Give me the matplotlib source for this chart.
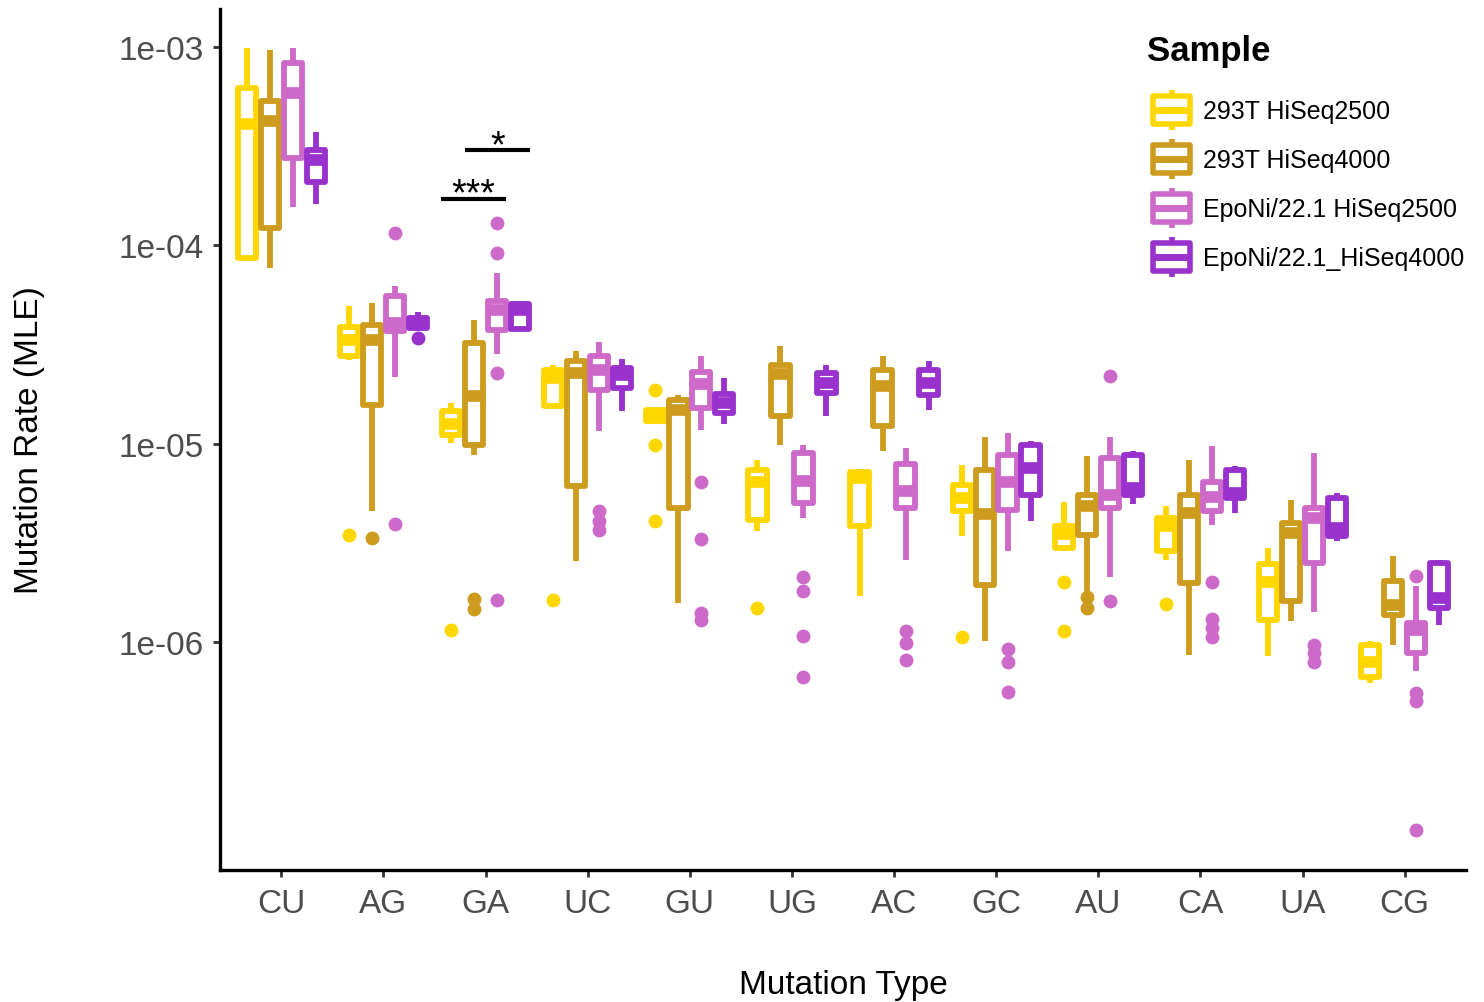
import numpy as np
import matplotlib
matplotlib.use("Agg")
import matplotlib.pyplot as plt
from matplotlib.patches import Rectangle, Patch
from matplotlib.lines import Line2D
from matplotlib.legend_handler import HandlerBase
from matplotlib.ticker import FixedLocator, NullLocator

plt.rcParams['font.family'] = ['Liberation Sans', 'DejaVu Sans']

# categories / groups
mutation_types = ["CU", "AG", "GA", "UC", "GU", "UG", "AC", "GC", "AU", "CA", "UA", "CG"]
samples = ["293T HiSeq2500", "293T HiSeq4000", "EpoNi/22.1 HiSeq2500", "EpoNi/22.1_HiSeq4000"]
colors = ["#FFD700", "#CD9B1D", "#CD69C9", "#9932CC"]

# box summaries per mutation type: (lower whisker, q1, median, q3, upper whisker)
t293_hs2500 = [
    (8.5e-5, 8.6e-5, 4.1e-4, 6.2e-4, 9.9e-4),
    (2.65e-5, 2.77e-5, 3.34e-5, 3.88e-5, 4.95e-5),
    (1.01e-5, 1.11e-5, 1.26e-5, 1.47e-5, 1.61e-5),
    (1.54e-5, 1.55e-5, 2.15e-5, 2.36e-5, 2.5e-5),
    (1.31e-5, 1.31e-5, 1.38e-5, 1.48e-5, 1.48e-5),
    (3.65e-6, 4.14e-6, 6.44e-6, 7.4e-6, 8.3e-6),
    (1.71e-6, 3.86e-6, 6.7e-6, 7.2e-6, 7.5e-6),
    (3.44e-6, 4.6e-6, 5.35e-6, 6.2e-6, 7.8e-6),
    (2.92e-6, 2.99e-6, 3.52e-6, 3.86e-6, 5.1e-6),
    (2.6e-6, 2.89e-6, 3.86e-6, 4.24e-6, 4.87e-6),
    (8.55e-7, 1.3e-6, 2.02e-6, 2.48e-6, 2.99e-6),
    (6.25e-7, 6.7e-7, 8.0e-7, 9.7e-7, 1.02e-6),
]
t293_hs4000 = [
    (7.7e-5, 1.22e-4, 4.24e-4, 5.35e-4, 9.7e-4),
    (4.6e-6, 1.57e-5, 3.34e-5, 3.98e-5, 5.13e-5),
    (8.8e-6, 9.9e-6, 1.75e-5, 3.23e-5, 4.21e-5),
    (2.58e-6, 6.14e-6, 2.28e-5, 2.62e-5, 2.94e-5),
    (1.58e-6, 4.76e-6, 1.48e-5, 1.67e-5, 1.77e-5),
    (9.9e-6, 1.38e-5, 2.25e-5, 2.5e-5, 3.12e-5),
    (9.2e-6, 1.23e-5, 1.96e-5, 2.36e-5, 2.77e-5),
    (1.02e-6, 1.95e-6, 4.44e-6, 7.4e-6, 1.08e-5),
    (1.82e-6, 3.48e-6, 4.87e-6, 5.5e-6, 8.7e-6),
    (8.65e-7, 2.0e-6, 4.49e-6, 5.5e-6, 8.3e-6),
    (1.28e-6, 1.62e-6, 3.56e-6, 4.0e-6, 5.22e-6),
    (9.7e-7, 1.38e-6, 1.55e-6, 2.04e-6, 2.73e-6),
]
epo_hs2500 = [
    (1.56e-4, 2.76e-4, 5.87e-4, 8.3e-4, 9.9e-4),
    (2.18e-5, 3.71e-5, 4.07e-5, 5.57e-5, 6.25e-5),
    (2.84e-5, 3.75e-5, 4.73e-5, 5.25e-5, 7.27e-5),
    (1.16e-5, 1.87e-5, 2.36e-5, 2.77e-5, 3.27e-5),
    (1.18e-5, 1.52e-5, 2.0e-5, 2.31e-5, 2.77e-5),
    (4.24e-6, 5.05e-6, 6.5e-6, 9.0e-6, 9.9e-6),
    (2.6e-6, 4.76e-6, 5.8e-6, 7.9e-6, 9.55e-6),
    (2.89e-6, 4.65e-6, 6.44e-6, 8.8e-6, 1.14e-5),
    (2.14e-6, 4.76e-6, 5.5e-6, 8.5e-6, 1.08e-5),
    (3.9e-6, 4.6e-6, 5.4e-6, 6.44e-6, 9.77e-6),
    (1.43e-6, 2.52e-6, 4.24e-6, 4.76e-6, 9.0e-6),
    (7.2e-7, 8.85e-7, 1.16e-6, 1.25e-6, 1.93e-6),
]
epo_hs4000 = [
    (1.62e-4, 2.09e-4, 2.7e-4, 3.03e-4, 3.73e-4),
    (3.71e-5, 3.84e-5, 4.07e-5, 4.31e-5, 4.62e-5),
    (3.75e-5, 3.8e-5, 4.73e-5, 5.07e-5, 5.25e-5),
    (1.47e-5, 1.91e-5, 2.23e-5, 2.41e-5, 2.68e-5),
    (1.26e-5, 1.43e-5, 1.6e-5, 1.79e-5, 2.15e-5),
    (1.38e-5, 1.81e-5, 2.03e-5, 2.28e-5, 2.5e-5),
    (1.48e-5, 1.77e-5, 2.03e-5, 2.36e-5, 2.62e-5),
    (4.1e-6, 5.5e-6, 7.6e-6, 9.9e-6, 1.04e-5),
    (4.99e-6, 5.5e-6, 6.0e-6, 8.8e-6, 9.2e-6),
    (4.49e-6, 5.35e-6, 5.66e-6, 7.4e-6, 7.74e-6),
    (3.25e-6, 3.44e-6, 3.78e-6, 5.35e-6, 5.66e-6),
    (1.22e-6, 1.49e-6, 1.67e-6, 2.52e-6, 2.6e-6),
]

# outliers per mutation type
t293_hs2500_out = [[], [3.48e-6], [1.16e-6], [1.64e-6], [1.87e-5, 9.9e-6, 4.1e-6], [1.49e-6],
                   [], [1.07e-6], [2.02e-6, 1.14e-6], [1.56e-6], [], []]
t293_hs4000_out = [[], [3.36e-6], [1.66e-6, 1.48e-6], [], [], [], [], [], [1.69e-6, 1.49e-6],
                   [], [], []]
epo_hs2500_out = [[], [1.156e-4, 3.95e-6], [1.3e-4, 9.17e-5, 2.28e-5, 1.64e-6],
                  [4.6e-6, 4.1e-6, 3.69e-6], [6.4e-6, 3.32e-6, 1.41e-6, 1.3e-6],
                  [2.14e-6, 1.82e-6, 1.08e-6, 6.7e-7], [1.14e-6, 9.9e-7, 8.2e-7],
                  [9.3e-7, 8.0e-7, 5.6e-7], [2.2e-5, 1.62e-6], [2.02e-6, 1.31e-6, 1.18e-6, 1.07e-6],
                  [9.7e-7, 8.85e-7, 8.0e-7], [2.16e-6, 5.57e-7, 5.07e-7, 1.135e-7]]
epo_hs4000_out = [[], [3.42e-5], [], [], [], [], [], [], [], [], [], []]

# significance brackets (GA group): x from, x to, height, label
sig_x0 = [1.564, 1.802]
sig_x1 = [2.201, 2.432]
sig_y = [1.715e-4, 3.01e-4]
sig_txt = ["***", "*"]


class BoxKey(HandlerBase):
    def create_artists(self, legend, orig_handle, xdescent, ydescent, width, height, fontsize, trans):
        col = orig_handle.get_edgecolor()
        x0, y0 = -xdescent, -ydescent
        box = Rectangle((x0 + 0.07 * width, y0 + 0.15 * height), 0.86 * width, 0.70 * height,
                        facecolor='white', edgecolor=col, lw=4, joinstyle='round', transform=trans)
        med = Line2D([x0 + 0.07 * width, x0 + 0.93 * width], [y0 + 0.5 * height] * 2,
                     color=col, lw=5, solid_capstyle='butt', transform=trans)
        wt = Line2D([x0 + 0.5 * width] * 2, [y0 + 0.85 * height, y0 + height],
                    color=col, lw=4, solid_capstyle='butt', transform=trans)
        wb = Line2D([x0 + 0.5 * width] * 2, [y0, y0 + 0.15 * height],
                    color=col, lw=4, solid_capstyle='butt', transform=trans)
        return [box, med, wt, wb]


fig = plt.figure(figsize=(14.84, 10.03), dpi=100)
ax = fig.add_axes([220 / 1484, 1 - 871 / 1003, 1246 / 1484, 861 / 1003])

offsets = [-0.3375, -0.1125, 0.1125, 0.3375]
all_boxes = [t293_hs2500, t293_hs4000, epo_hs2500, epo_hs4000]
all_out = [t293_hs2500_out, t293_hs4000_out, epo_hs2500_out, epo_hs4000_out]
x = np.arange(len(mutation_types))

for k, (boxes, outs, col) in enumerate(zip(all_boxes, all_out, colors)):
    stats = [dict(whislo=b[0], q1=b[1], med=b[2], q3=b[3], whishi=b[4], fliers=o)
             for b, o in zip(boxes, outs)]
    ax.bxp(stats, positions=x + offsets[k], widths=0.18, patch_artist=True,
           showcaps=False, manage_ticks=False, zorder=2 + k,
           boxprops=dict(facecolor='white', edgecolor=col, linewidth=4.2, joinstyle='round'),
           medianprops=dict(color=col, linewidth=8.4, solid_capstyle='butt'),
           whiskerprops=dict(color=col, linewidth=4.2, solid_capstyle='butt'),
           flierprops=dict(marker='o', markerfacecolor=col, markeredgecolor='none',
                           markersize=10))

for x0, x1, yv, t in zip(sig_x0, sig_x1, sig_y, sig_txt):
    ax.plot([x0, x1], [yv, yv], color='black', lw=3, solid_capstyle='butt', zorder=10)
    ax.annotate(t, xy=((x0 + x1) / 2, yv), xytext=(0, -4), textcoords='offset points',
                ha='center', va='baseline', fontsize=27, color='black', zorder=10)

ax.set_yscale('log')
ax.set_ylim(7.14e-8, 1.553e-3)
ax.set_xlim(-0.6, 11.6)
ax.yaxis.set_major_locator(FixedLocator([1e-6, 1e-5, 1e-4, 1e-3]))
ax.yaxis.set_minor_locator(NullLocator())
ax.set_yticklabels(["1e-06", "1e-05", "1e-04", "1e-03"])
ax.set_xticks(x)
ax.set_xticklabels(mutation_types)

for s in ['top', 'right']:
    ax.spines[s].set_visible(False)
for s in ['left', 'bottom']:
    ax.spines[s].set_linewidth(2.4)
    ax.spines[s].set_color('black')

ax.tick_params(axis='both', length=5, width=2, color='#333333', labelcolor='#4D4D4D',
               labelsize=24)
ax.tick_params(axis='y', pad=7)
ax.tick_params(axis='x', pad=8)

ax.set_xlabel("Mutation Type", fontsize=24, color='black')
ax.set_ylabel("Mutation Rate (MLE)", fontsize=24, color='black')
ax.xaxis.label.set_va('center')
ax.xaxis.set_label_coords(0.5, -0.1335)
ax.yaxis.label.set_va('center')
ax.yaxis.set_label_coords(-0.153, 0.5)

# legend: title placed separately so the gap to the keys can match
fig.text(1147 / 1484, 1 - 61 / 1003, "Sample", fontsize=25, fontweight='bold',
         ha='left', va='baseline')
handles = [Patch(facecolor='white', edgecolor=c) for c in colors]
leg = ax.legend(handles, samples, handler_map={Patch: BoxKey()},
                fontsize=18, frameon=False,
                loc='upper left', bbox_to_anchor=(1150 / 1484, 1 - 91 / 1003),
                bbox_transform=fig.transFigure, borderpad=0, borderaxespad=0,
                handlelength=1.72, handleheight=2.08, handletextpad=0.4,
                labelspacing=0.36)

fig.savefig("out.png", dpi=100)
